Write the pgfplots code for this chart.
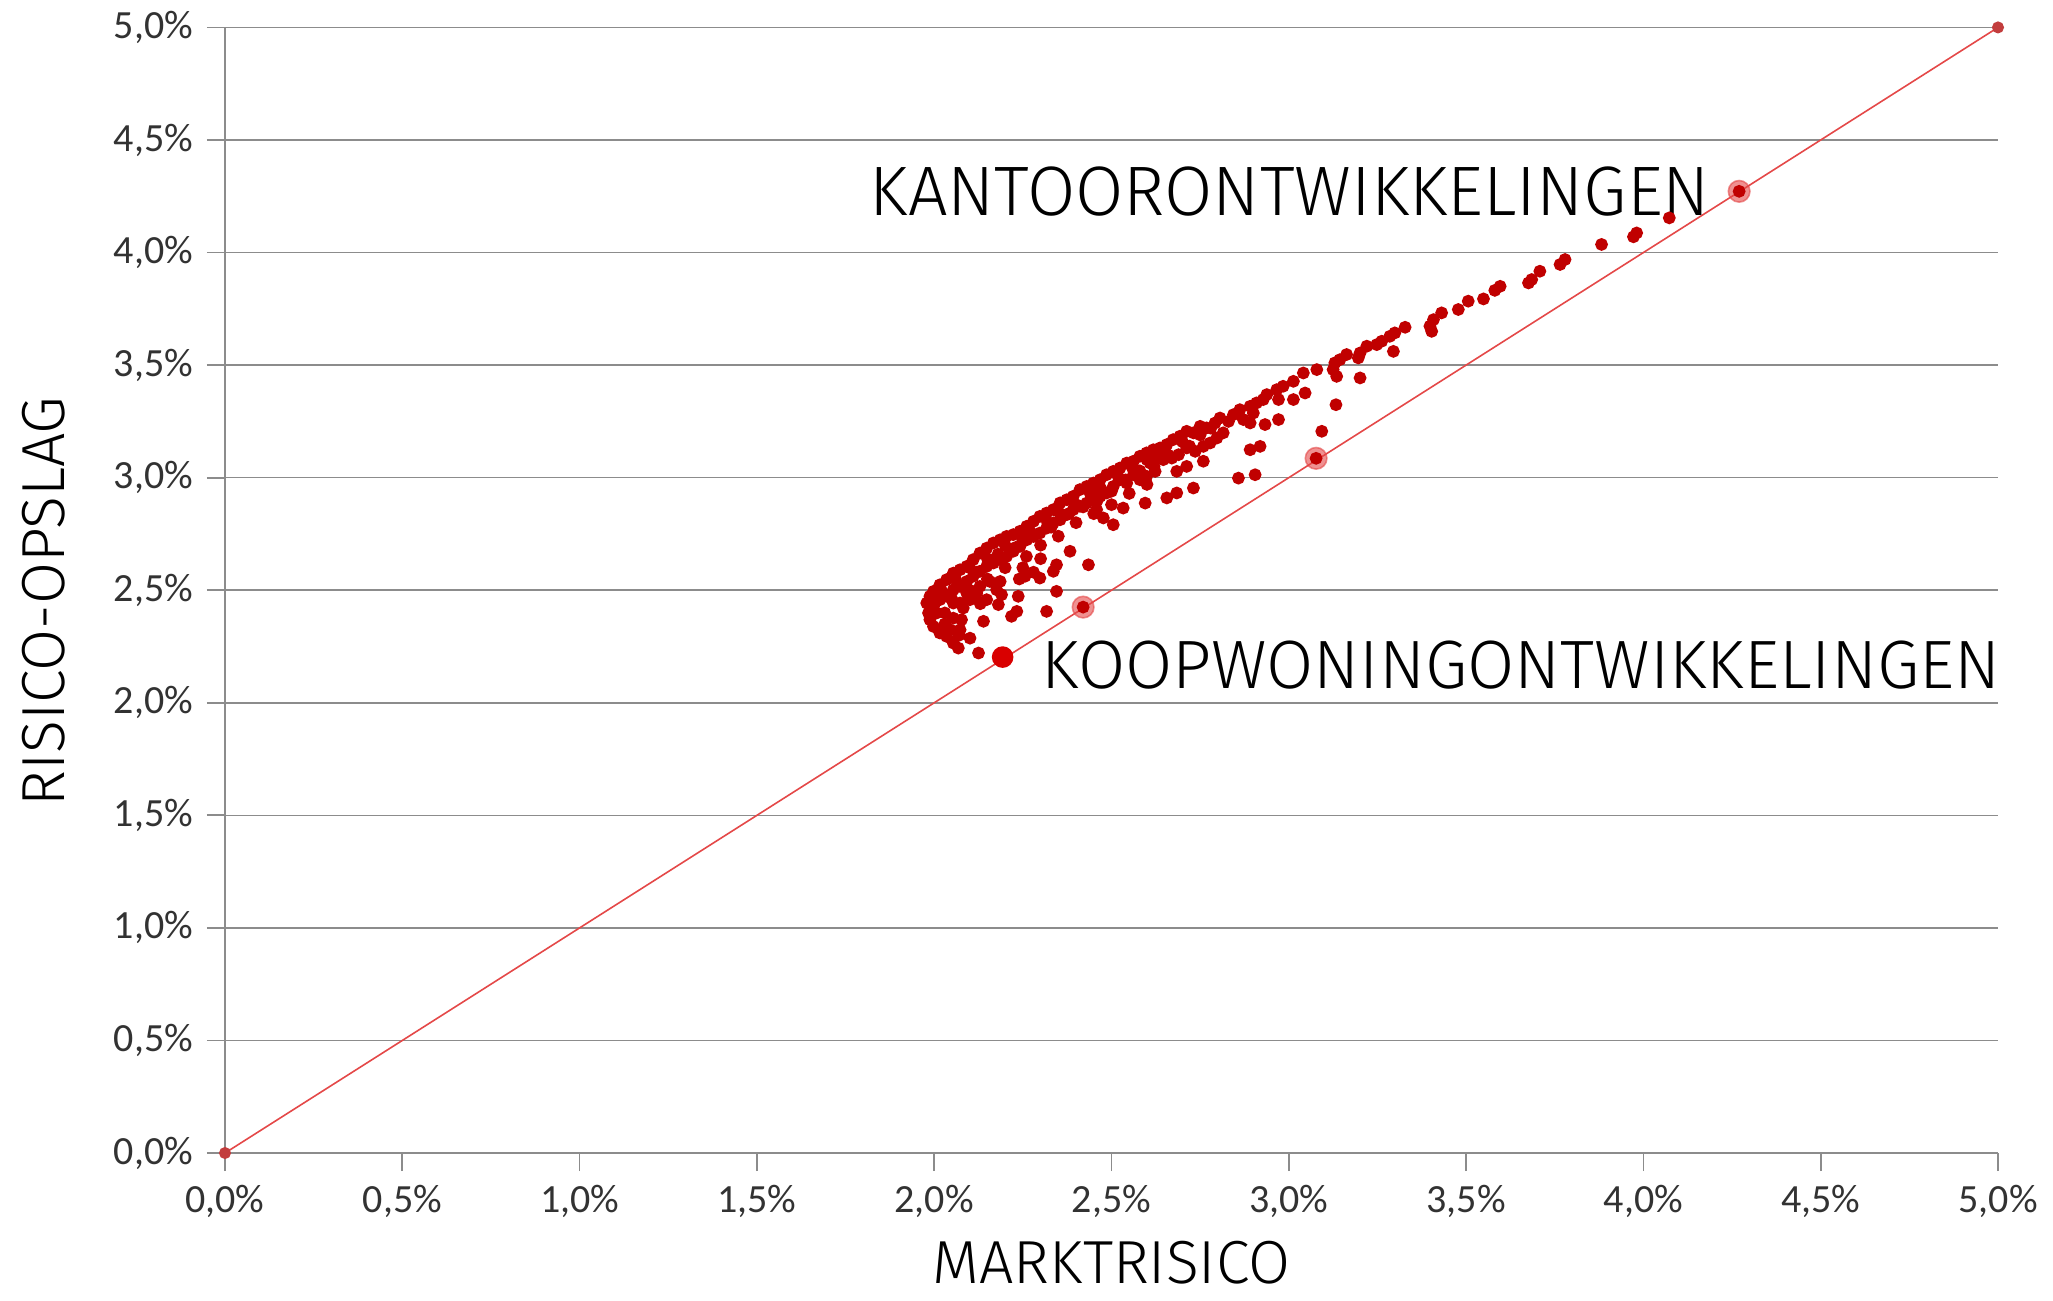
\documentclass[border=0pt]{standalone}
\usepackage{pgfplots}
\pgfplotsset{compat=1.18}
\usepackage{fontspec}
\setmainfont{Carlito}
\newfontfamily\dinfont{Fira Sans Light}

\definecolor{dotred}{RGB}{192,0,0}
\definecolor{linered}{RGB}{228,72,72}
\definecolor{gridgray}{RGB}{140,140,140}
\definecolor{ticktext}{RGB}{50,50,50}

\begin{document}
\begin{tikzpicture}
\begin{axis}[
    at={(0,0)}, anchor=south west,
    scale only axis,
    width=443.25pt, height=281.4pt,
    xmin=0, xmax=5, ymin=0, ymax=5,
    clip=false,
    axis x line=bottom, axis y line=left,
    axis line style={draw=gridgray, line width=0.45pt, -},
    xtick={0,0.5,...,5}, ytick={0,0.5,...,5},
    tick align=outside, major tick length=4.5pt,
    tick style={draw=gridgray, line width=0.45pt},
    ymajorgrids, grid style={draw=gridgray, line width=0.4pt},
    /pgf/number format/assume math mode=true,
    xticklabel={\pgfmathprintnumber[fixed,fixed zerofill,precision=1,use comma]{\tick}\%},
    yticklabel={\pgfmathprintnumber[fixed,fixed zerofill,precision=1,use comma]{\tick}\%},
    tick label style={font=\fontsize{10}{12}\selectfont, text=ticktext},
    xlabel={MARKTRISICO}, ylabel={RISICO-OPSLAG},
    label style={font=\dinfont\fontsize{15.2}{18}\selectfont, inner sep=0pt},
    xlabel style={at={(axis description cs:0.5,-0.097)}, anchor=center},
    ylabel style={at={(axis description cs:-0.102,0.49)}, anchor=center},
]
% diagonal reference line
\addplot[linered, line width=0.4pt] coordinates {(0,0) (5,5)};
\addplot[only marks, mark=*, mark size=1.3pt, color=linered!85!black] coordinates {(0,0) (5,5)};

% projects
\addplot[only marks, mark=*, mark size=1.4pt, color=dotred] coordinates {
(4.073,4.154)(3.981,4.087)(3.972,4.070)(3.882,4.036)(3.779,3.969)(3.765,3.947)(3.708,3.917)(3.685,3.880)
(3.676,3.865)(3.596,3.850)(3.581,3.832)(3.549,3.794)(3.506,3.784)(3.478,3.747)(3.431,3.732)(3.408,3.702)
(3.398,3.673)(3.403,3.650)(3.328,3.668)(3.299,3.643)(3.285,3.628)(3.295,3.561)(3.262,3.606)(3.248,3.591)
(3.220,3.584)(3.201,3.554)(3.196,3.532)(3.163,3.547)(3.144,3.524)(3.130,3.510)(3.125,3.480)(3.135,3.450)
(3.201,3.443)(3.079,3.480)(3.041,3.465)(3.013,3.428)(2.984,3.406)(2.966,3.391)(2.938,3.369)(2.928,3.347)
(2.909,3.332)(2.891,3.317)(2.900,3.287)(2.971,3.347)(3.013,3.347)(3.046,3.376)(3.133,3.324)(3.093,3.206)
(2.971,3.258)(2.933,3.236)(2.891,3.243)(2.919,3.139)(2.891,3.124)(2.905,3.013)
(2.806,3.265)(2.792,3.243)(2.768,3.221)(2.750,3.228)(2.731,3.199)(2.712,3.206)(2.693,3.184)(2.674,3.169)
(2.656,3.147)(2.637,3.132)(2.618,3.124)(2.599,3.110)(2.580,3.095)(2.562,3.073)(2.543,3.065)(2.524,3.043)
(2.505,3.028)(2.486,3.013)(2.468,2.991)(2.449,2.976)(2.430,2.961)(2.411,2.947)(2.392,2.917)(2.374,2.902)
(2.355,2.888)(2.336,2.858)(2.317,2.843)(2.298,2.828)(2.280,2.806)(2.261,2.784)(2.242,2.762)(2.223,2.747)
(2.204,2.739)(2.186,2.724)(2.167,2.710)(2.148,2.687)(2.129,2.665)(2.110,2.636)(2.092,2.606)(2.073,2.591)
(2.054,2.576)(2.035,2.547)(2.016,2.524)(1.998,2.495)(1.988,2.473)(1.979,2.443)
(2.815,3.199)(2.797,3.176)(2.778,3.154)(2.759,3.139)(2.736,3.117)(2.712,3.132)(2.689,3.102)(2.670,3.087)
(2.646,3.080)(2.628,3.087)(2.609,3.065)(2.623,3.028)(2.599,3.006)(2.580,2.991)(2.562,3.013)(2.543,2.976)
(2.524,2.991)(2.505,2.961)(2.486,2.932)(2.468,2.917)(2.449,2.902)(2.430,2.887)(2.411,2.873)(2.392,2.858)
(2.374,2.836)(2.355,2.813)(2.336,2.799)(2.317,2.776)(2.298,2.754)(2.280,2.739)(2.261,2.724)(2.242,2.695)
(2.223,2.673)(2.204,2.650)(2.186,2.636)(2.167,2.621)(2.148,2.606)(2.129,2.584)(2.110,2.562)(2.092,2.539)
(2.073,2.517)(2.054,2.502)(2.035,2.473)(2.016,2.458)(1.998,2.428)(1.984,2.399)(1.988,2.369)(1.998,2.339)
(2.016,2.310)(2.035,2.295)(2.054,2.265)(2.068,2.243)
(2.759,3.073)(2.712,3.050)(2.684,3.028)(2.731,2.954)(2.684,2.932)(2.656,2.910)(2.595,2.887)(2.533,2.865)
(2.505,2.791)(2.477,2.821)(2.458,2.858)(2.383,2.673)(2.435,2.613)(2.345,2.613)(2.336,2.584)(2.298,2.554)
(2.256,2.562)(2.345,2.495)(2.317,2.406)(2.237,2.473)(2.233,2.406)(2.218,2.384)(2.186,2.539)(2.176,2.502)
(2.181,2.436)(2.139,2.362)(2.148,2.458)(2.120,2.487)(2.101,2.458)(2.082,2.421)(2.077,2.369)(2.054,2.376)
(2.030,2.399)(2.021,2.324)(2.045,2.324)(2.073,2.324)(2.101,2.287)(2.125,2.221)(2.073,2.443)(2.157,2.539)
(2.129,2.517)(2.092,2.487)(2.054,2.443)(2.007,2.399)(2.844,3.280)(2.862,3.302)(2.872,3.258)(2.858,2.998)
(2.20,2.70)(2.25,2.72)(2.27,2.76)(2.32,2.80)(2.35,2.85)(2.40,2.88)(2.44,2.93)(2.47,2.95)(2.52,3.00)
(2.56,3.04)(2.60,3.08)(2.65,3.12)(2.70,3.16)(2.75,3.19)(2.78,3.22)(2.83,3.25)(2.15,2.64)(2.10,2.60)
(2.06,2.55)(2.02,2.50)(2.12,2.58)(2.18,2.66)(2.23,2.69)(2.28,2.74)(2.33,2.78)(2.38,2.84)(2.42,2.87)
(2.46,2.90)(2.50,2.94)(2.54,2.99)(2.58,3.03)(2.62,3.05)(2.66,3.10)(2.72,3.14)(2.26,2.65)(2.30,2.70)
(2.35,2.74)(2.40,2.80)(2.45,2.84)(2.50,2.88)(2.55,2.93)(2.60,2.97)(2.20,2.60)(2.15,2.55)(2.10,2.50)
(2.05,2.46)(2.00,2.40)(2.03,2.35)(2.07,2.30)(2.25,2.60)(2.30,2.64)(2.19,2.48)(2.13,2.44)(2.24,2.55)
(2.28,2.58)
};

% highlighted projects on the diagonal
\addplot[only marks, mark=*, mark size=2.7pt, color=linered, mark options={fill opacity=0.6, draw opacity=0.6}] coordinates {(2.42,2.425) (3.077,3.086) (4.27,4.272)};
\addplot[only marks, mark=*, mark size=1.4pt, color=dotred] coordinates {(2.42,2.425) (3.077,3.086) (4.27,4.272)};
\addplot[only marks, mark=*, mark size=2.5pt, color=red!85!black] coordinates {(2.193,2.203)};

\node[font=\dinfont\fontsize{17.5}{20}\selectfont, anchor=east, inner sep=0pt] at (axis cs:4.19,4.271) {KANTOORONTWIKKELINGEN};
\node[font=\dinfont\fontsize{17.1}{20}\selectfont, anchor=west, inner sep=0pt] at (axis cs:2.301,2.169) {KOOPWONINGONTWIKKELINGEN};
\end{axis}
\pgfresetboundingbox
\path[use as bounding box] (-56.25pt,-36.75pt) rectangle (457pt,288.25pt);
\end{tikzpicture}
\end{document}
